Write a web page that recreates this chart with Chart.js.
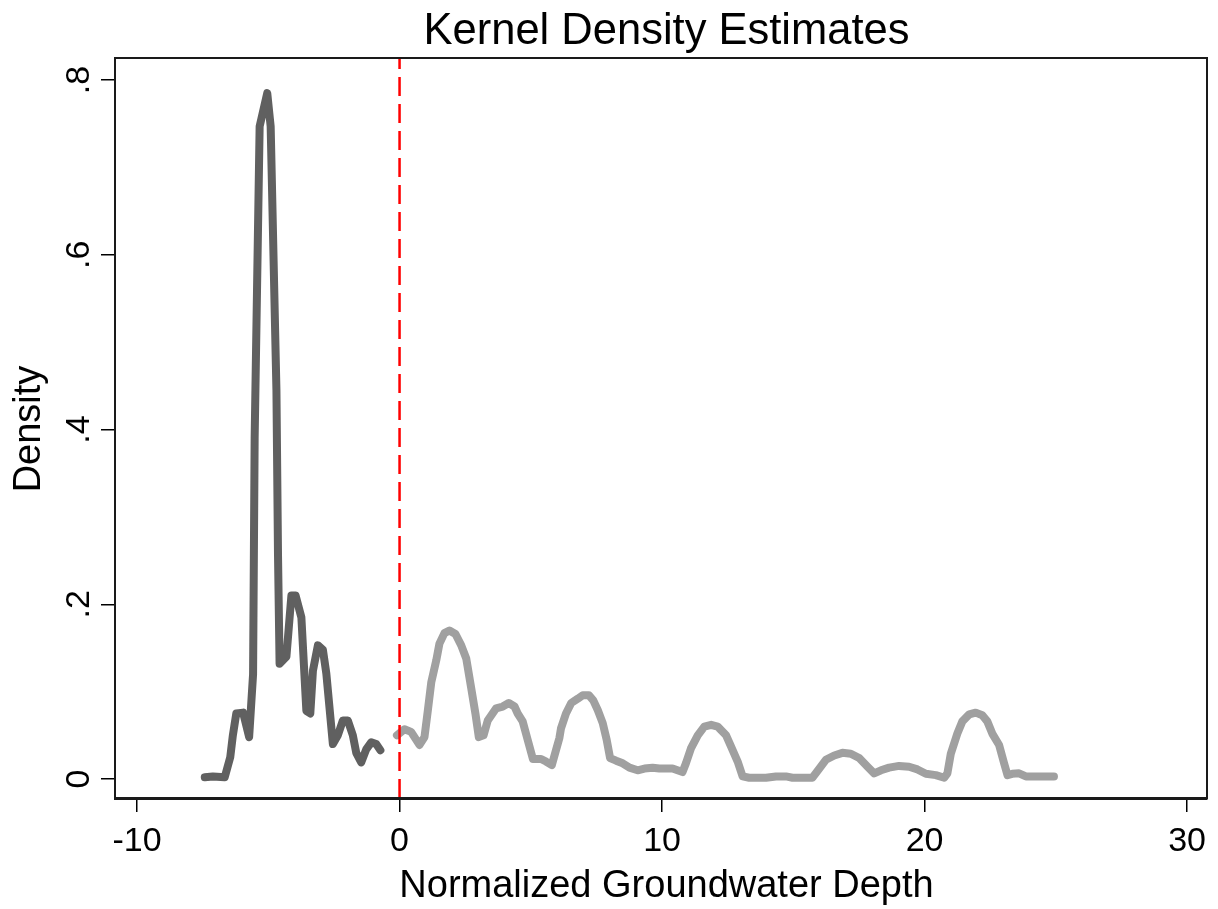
<!DOCTYPE html>
<html>
<head>
<meta charset="utf-8">
<script src="https://cdn.jsdelivr.net/npm/chart.js@4.4.1/dist/chart.umd.min.js"></script>
<style>
  html, body { margin: 0; padding: 0; background: #ffffff; }
  #wrap { width: 1218px; height: 909px; }
</style>
</head>
<body>
<div id="wrap"><canvas id="c" width="1218" height="909"></canvas></div>
<script>
// ---- data ----
const chartTitle = "Kernel Density Estimates";
const xTitle = "Normalized Groundwater Depth";
const yTitle = "Density";

const xTicks = [-10, 0, 10, 20, 30];
const xTickLabels = ["-10", "0", "10", "20", "30"];
const yTicks = [0, 0.2, 0.4, 0.6, 0.8];
const yTickLabels = ["0", ".2", ".4", ".6", ".8"];

const cutoffX = 0;

const darkX = [-7.42,-7.11,-6.66,-6.45,-6.35,-6.22,-5.96,-5.73,-5.58,-5.52,-5.33,-5.04,-4.91,-4.69,-4.63,-4.57,-4.31,-4.12,-3.96,-3.74,-3.55,-3.40,-3.30,-3.11,-2.92,-2.79,-2.54,-2.35,-2.16,-1.97,-1.78,-1.65,-1.46,-1.27,-1.08,-0.89,-0.73];
const darkY = [0.002,0.003,0.002,0.025,0.05,0.075,0.076,0.048,0.12,0.39,0.747,0.785,0.747,0.445,0.256,0.132,0.14,0.21,0.21,0.185,0.078,0.075,0.124,0.153,0.148,0.121,0.040,0.050,0.067,0.067,0.050,0.030,0.019,0.034,0.042,0.040,0.033];

const lightX = [-0.10,0.19,0.44,0.76,0.95,1.08,1.21,1.40,1.52,1.71,1.90,2.13,2.35,2.54,2.73,2.89,3.02,3.20,3.36,3.68,3.93,4.16,4.38,4.50,4.69,4.88,5.08,5.39,5.58,5.80,5.96,6.09,6.15,6.34,6.54,6.79,6.98,7.21,7.38,7.55,7.74,7.89,8.02,8.25,8.50,8.76,9.07,9.33,9.64,9.90,10.40,10.59,10.78,10.91,11.10,11.36,11.61,11.87,12.12,12.44,12.63,12.88,13.07,13.32,13.96,14.34,14.72,14.97,15.73,15.99,16.24,16.56,16.87,17.19,17.51,17.83,18.08,18.34,18.65,19.03,19.41,19.73,20.05,20.43,20.75,20.87,21.00,21.25,21.44,21.70,21.95,22.20,22.39,22.58,22.84,23.03,23.16,23.34,23.60,23.86,24.36,24.68,24.93];
const lightY = [0.050,0.057,0.054,0.039,0.048,0.079,0.111,0.136,0.155,0.167,0.170,0.166,0.153,0.138,0.104,0.075,0.048,0.050,0.067,0.081,0.083,0.087,0.083,0.075,0.066,0.045,0.023,0.023,0.020,0.016,0.033,0.047,0.058,0.075,0.087,0.092,0.096,0.096,0.090,0.079,0.064,0.045,0.024,0.021,0.018,0.013,0.010,0.012,0.013,0.012,0.012,0.010,0.008,0.018,0.035,0.050,0.060,0.062,0.060,0.050,0.037,0.020,0.003,0.0015,0.0015,0.003,0.003,0.0015,0.0015,0.012,0.022,0.027,0.030,0.029,0.024,0.014,0.0065,0.010,0.013,0.015,0.014,0.011,0.006,0.0045,0.0015,0.0065,0.029,0.052,0.066,0.074,0.076,0.073,0.066,0.052,0.039,0.018,0.0045,0.006,0.0065,0.003,0.003,0.003,0.003];

// ---- axis ranges ----
const xMin = -10.84, xMax = 30.76;
const yMin = -0.0217, yMax = 0.8252;

const FONT = '"Liberation Sans", Arial, Helvetica, sans-serif';

function pts(xs, ys) { return xs.map((x, i) => ({ x: x, y: ys[i] })); }

function drawText(ctx, text, x, y, size, rot) {
  ctx.save();
  ctx.translate(x, y);
  if (rot) ctx.rotate(rot);
  ctx.font = size + 'px ' + FONT;
  ctx.fillStyle = '#000';
  ctx.textAlign = 'center';
  ctx.textBaseline = 'alphabetic';
  ctx.fillText(text, 0, 0);
  ctx.restore();
}

const decor = {
  id: 'decor',
  afterDraw(chart) {
    const ctx = chart.ctx;
    const a = chart.chartArea;
    const xs = chart.scales.x, ys = chart.scales.y;
    ctx.save();
    ctx.strokeStyle = '#1a1a1a';
    ctx.lineWidth = 2;
    ctx.strokeRect(a.left, a.top, a.right - a.left, a.bottom - a.top);
    ctx.restore();
    xTicks.forEach((v, i) => drawText(ctx, xTickLabels[i], xs.getPixelForValue(v), 851, 34, 0));
    yTicks.forEach((v, i) => drawText(ctx, yTickLabels[i], 89, ys.getPixelForValue(v), 34, -Math.PI / 2));
    drawText(ctx, chartTitle, 666.5, 44, 43.5, 0);
    drawText(ctx, xTitle, 666.5, 897, 38, 0);
    drawText(ctx, yTitle, 40, 429, 38, -Math.PI / 2);
  }
};

new Chart(document.getElementById('c'), {
  type: 'line',
  data: {
    datasets: [
      {
        label: 'cutoff',
        data: [{ x: cutoffX, y: yMin }, { x: cutoffX, y: yMax }],
        borderColor: '#ff0000',
        borderWidth: 2.5,
        borderDash: [19, 8],
        pointRadius: 0,
        fill: false,
        order: 0
      },
      {
        label: 'below',
        data: pts(darkX, darkY),
        borderColor: '#606060',
        borderWidth: 8,
        pointRadius: 0,
        fill: false,
        tension: 0,
        borderCapStyle: 'round',
        borderJoinStyle: 'round',
        order: 1
      },
      {
        label: 'above',
        data: pts(lightX, lightY),
        borderColor: '#a0a0a0',
        borderWidth: 8,
        pointRadius: 0,
        fill: false,
        tension: 0,
        borderCapStyle: 'round',
        borderJoinStyle: 'round',
        order: 2
      }
    ]
  },
  options: {
    responsive: false,
    animation: false,
    devicePixelRatio: 1,
    layout: { padding: { left: 0, top: 58, right: 11, bottom: 0 } },
    plugins: { legend: { display: false }, title: { display: false }, tooltip: { enabled: false } },
    scales: {
      x: {
        type: 'linear',
        position: 'bottom',
        min: xMin, max: xMax,
        afterBuildTicks: (s) => { s.ticks = xTicks.map(v => ({ value: v })); },
        afterFit: (s) => { s.height = 111; },
        ticks: { display: false },
        grid: { display: true, drawOnChartArea: false, drawTicks: true, tickLength: 14, color: '#000', lineWidth: 1.5 },
        border: { display: true, color: '#1a1a1a', width: 3 }
      },
      y: {
        type: 'linear',
        position: 'left',
        min: yMin, max: yMax,
        afterBuildTicks: (s) => { s.ticks = yTicks.map(v => ({ value: v })); },
        afterFit: (s) => { s.width = 115; },
        ticks: { display: false },
        grid: { display: true, drawOnChartArea: false, drawTicks: true, tickLength: 14, color: '#000', lineWidth: 1.5 },
        border: { display: true, color: '#1a1a1a', width: 2 }
      }
    }
  },
  plugins: [decor]
});
</script>
</body>
</html>
